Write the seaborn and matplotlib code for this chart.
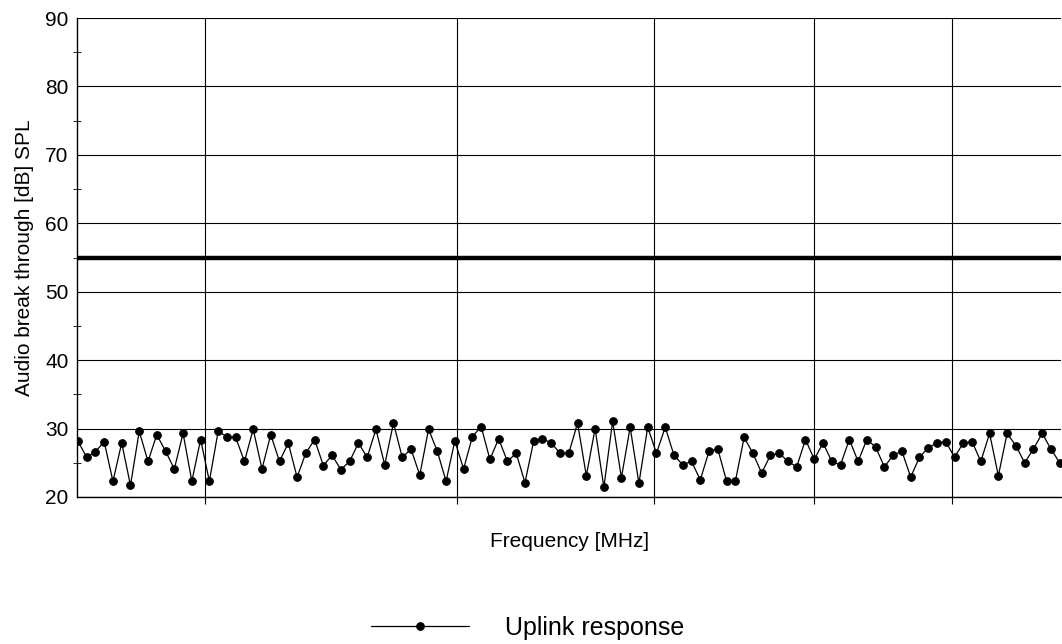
import numpy as np
import pandas as pd
import matplotlib
matplotlib.use("Agg")
import matplotlib.pyplot as plt
import seaborn as sns
from matplotlib.ticker import MultipleLocator

# ---- data ----
uplink_response = [
    28.2, 25.8, 26.6, 28.1, 22.3, 27.9, 21.7, 29.6, 25.2, 29.1,
    26.7, 24.1, 29.3, 22.3, 28.4, 22.3, 29.6, 28.8, 28.7, 25.2,
    29.9, 24.1, 29.1, 25.2, 27.9, 22.9, 26.4, 28.4, 24.6, 26.1,
    24.0, 25.2, 27.9, 25.8, 29.9, 24.7, 30.8, 25.8, 27.0, 23.2,
    29.9, 26.7, 22.3, 28.2, 24.1, 28.8, 30.3, 25.5, 28.5, 25.2,
    26.4, 22.1, 28.2, 28.5, 27.9, 26.4, 26.4, 30.8, 23.1, 30.0,
    21.4, 31.1, 22.8, 30.2, 22.0, 30.2, 26.4, 30.2, 26.1, 24.7,
    25.2, 22.5, 26.7, 27.0, 22.3, 22.3, 28.7, 26.4, 23.5, 26.1,
    26.4, 25.2, 24.4, 28.4, 25.5, 27.9, 25.2, 24.7, 28.4, 25.2,
    28.4, 27.3, 24.4, 26.1, 26.7, 22.9, 25.8, 27.2, 27.9, 28.1,
    25.8, 27.9, 28.1, 25.2, 29.3, 23.1, 29.3, 27.5, 25.0, 27.0,
    29.3, 27.0, 25.0,
]
frequency_index = list(range(len(uplink_response)))
limit_level = 55
x_grid_positions = [14.5, 43.3, 65.7, 84.0, 99.7]
y_ticks = [20, 30, 40, 50, 60, 70, 80, 90]

df = pd.DataFrame({"freq": frequency_index, "level": uplink_response})

sns.set_theme(style="white")
plt.rcParams['font.family'] = ['Liberation Sans', 'DejaVu Sans']
plt.rcParams['text.color'] = 'black'
plt.rcParams['axes.labelcolor'] = 'black'
plt.rcParams['xtick.color'] = 'black'
plt.rcParams['ytick.color'] = 'black'

fig = plt.figure(figsize=(10.62, 6.44), dpi=100)
ax = fig.add_axes([77/1062, 1 - 497/644, 1 - 77/1062 - 0.0005, (497 - 18)/644])

sns.lineplot(data=df, x="freq", y="level", ax=ax, color="black", linewidth=0.9,
             marker="o", markersize=5.5, markeredgecolor="black",
             label="Uplink response", zorder=3)
ax.axhline(limit_level, color="black", linewidth=3.2, zorder=2)

ax.set_xlim(-0.1, len(uplink_response) - 0.8)
ax.set_ylim(20, 90)
ax.set_yticks(y_ticks)
ax.yaxis.set_minor_locator(MultipleLocator(5))
ax.set_xticks(x_grid_positions)
ax.set_xticklabels([])
ax.grid(True, which="major", color="black", linewidth=0.8)
ax.tick_params(axis="y", which="major", labelsize=15, length=0, pad=6)
ax.tick_params(axis="y", which="minor", length=6, width=0.6, direction="inout", left=True)
ax.tick_params(axis="x", which="major", length=5, width=0.8, direction="out", bottom=True)

for s in ["left", "bottom"]:
    ax.spines[s].set_color("black")
    ax.spines[s].set_linewidth(1.0)
for s in ["top", "right"]:
    ax.spines[s].set_visible(False)

ax.set_ylabel("Audio break through [dB] SPL", fontsize=15, labelpad=8)
ax.set_xlabel("Frequency [MHz]", fontsize=15, labelpad=17)

ax.legend(loc="center", bbox_to_anchor=(0.497, 0.025), bbox_transform=fig.transFigure,
          frameon=False, fontsize=18, handlelength=3.9, handletextpad=1.45)

fig.savefig("out.png", dpi=100)
